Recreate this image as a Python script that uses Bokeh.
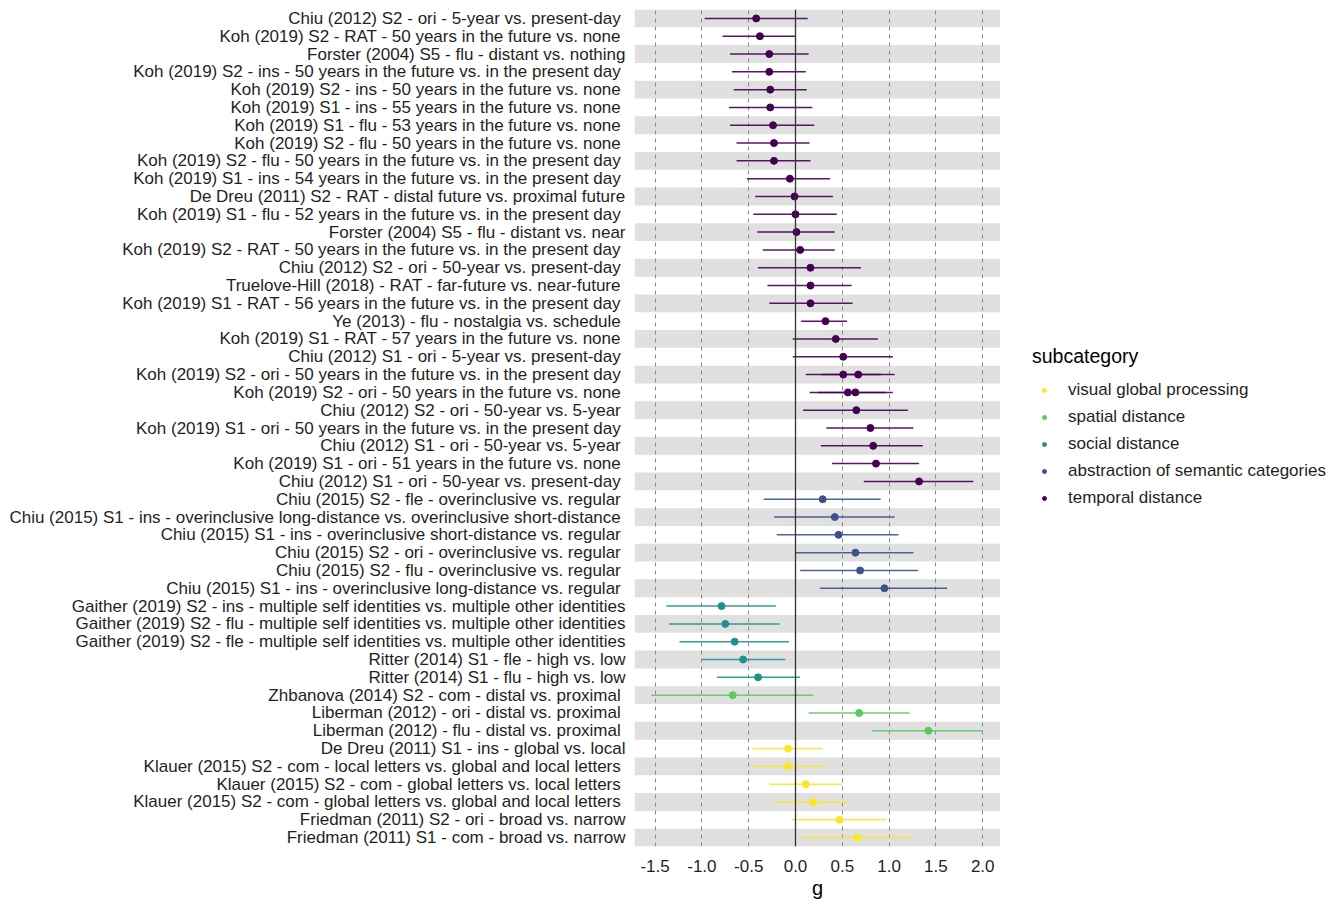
from bokeh.plotting import figure
from bokeh.layouts import row
from bokeh.models import (FactorRange, Range1d, FixedTicker, NumeralTickFormatter,
                          Span, Legend, LegendItem, ColumnDataSource)
from bokeh.transform import factor_cmap
from bokeh.embed import file_html
from bokeh.resources import INLINE

# ---------------- data ----------------
T, A, S, SP, V = ("temporal distance", "abstraction of semantic categories",
                  "social distance", "spatial distance", "visual global processing")

labels = [
    "Chiu  (2012) S2 - ori - 5-year vs. present-day",
    "Koh  (2019) S2 - RAT - 50 years in the future vs. none",
    "Forster (2004) S5 - flu - distant vs. nothing",
    "Koh  (2019) S2 - ins - 50 years in the future vs. in the present day",
    "Koh  (2019) S2 - ins - 50 years in the future vs. none",
    "Koh  (2019) S1 - ins - 55 years in the future vs. none",
    "Koh  (2019) S1 - flu - 53 years in the future vs. none",
    "Koh  (2019) S2 - flu - 50 years in the future vs. none",
    "Koh  (2019) S2 - flu - 50 years in the future vs. in the present day",
    "Koh  (2019) S1 - ins - 54 years in the future vs. in the present day",
    "De Dreu (2011) S2 - RAT - distal future vs. proximal future",
    "Koh  (2019) S1 - flu - 52 years in the future vs. in the present day",
    "Forster (2004) S5 - flu - distant vs. near",
    "Koh  (2019) S2 - RAT - 50 years in the future vs. in the present day",
    "Chiu  (2012) S2 - ori - 50-year vs. present-day",
    "Truelove-Hill (2018)  - RAT - far-future vs. near-future",
    "Koh  (2019) S1 - RAT - 56 years in the future vs. in the present day",
    "Ye (2013)  - flu - nostalgia vs. schedule",
    "Koh  (2019) S1 - RAT - 57 years in the future vs. none",
    "Chiu  (2012) S1 - ori - 5-year vs. present-day",
    "Koh  (2019) S2 - ori - 50 years in the future vs. in the present day",
    "Koh  (2019) S2 - ori - 50 years in the future vs. in the present day",
    "Koh  (2019) S2 - ori - 50 years in the future vs. none",
    "Koh  (2019) S2 - ori - 50 years in the future vs. none",
    "Chiu  (2012) S2 - ori - 50-year vs. 5-year",
    "Koh  (2019) S1 - ori - 50 years in the future vs. in the present day",
    "Chiu  (2012) S1 - ori - 50-year vs. 5-year",
    "Koh  (2019) S1 - ori - 51 years in the future vs. none",
    "Chiu  (2012) S1 - ori - 50-year vs. present-day",
    "Chiu  (2015) S2 - fle - overinclusive vs. regular",
    "Chiu  (2015) S1 - ins - overinclusive long-distance vs. overinclusive short-distance",
    "Chiu  (2015) S1 - ins - overinclusive short-distance vs. regular",
    "Chiu  (2015) S2 - ori - overinclusive vs. regular",
    "Chiu  (2015) S2 - flu - overinclusive vs. regular",
    "Chiu  (2015) S1 - ins - overinclusive long-distance vs. regular",
    "Gaither (2019) S2 - ins - multiple self identities vs. multiple other identities",
    "Gaither (2019) S2 - flu - multiple self identities vs. multiple other identities",
    "Gaither (2019) S2 - fle - multiple self identities vs. multiple other identities",
    "Ritter (2014) S1 - fle - high vs. low",
    "Ritter (2014) S1 - flu - high vs. low",
    "Zhbanova  (2014) S2 - com - distal vs. proximal",
    "Liberman (2012)  - ori - distal vs. proximal",
    "Liberman (2012)  - flu - distal vs. proximal",
    "De Dreu (2011) S1 - ins - global vs. local",
    "Klauer  (2015) S2 - com - local letters vs. global and local letters",
    "Klauer  (2015) S2 - com - global letters vs. local letters",
    "Klauer  (2015) S2 - com - global letters vs. global and local letters",
    "Friedman (2011) S2 - ori - broad vs. narrow",
    "Friedman (2011) S1 - com - broad vs. narrow",
]

g = [-0.42, -0.38, -0.28, -0.28, -0.27, -0.27, -0.24, -0.23, -0.23, -0.06,
     -0.01, 0.00, 0.01, 0.05, 0.16, 0.16, 0.16, 0.32, 0.43, 0.51,
     0.51, 0.67, 0.56, 0.64, 0.65, 0.80, 0.83, 0.86, 1.32,
     0.29, 0.42, 0.46, 0.64, 0.69, 0.95,
     -0.79, -0.75, -0.65, -0.56, -0.40,
     -0.67, 0.68, 1.42,
     -0.08, -0.08, 0.11, 0.19, 0.47, 0.66]

lower = [-0.97, -0.78, -0.70, -0.68, -0.66, -0.71, -0.70, -0.63, -0.63, -0.52,
         -0.43, -0.45, -0.41, -0.35, -0.40, -0.30, -0.28, 0.06, -0.03, -0.03,
         0.11, 0.28, 0.15, 0.24, 0.08, 0.33, 0.27, 0.39, 0.73,
         -0.34, -0.23, -0.20, 0.00, 0.05, 0.26,
         -1.38, -1.35, -1.24, -1.00, -0.84,
         -1.54, 0.14, 0.82,
         -0.46, -0.48, -0.28, -0.22, -0.04, 0.07]

upper = [0.13, 0.00, 0.14, 0.11, 0.12, 0.18, 0.20, 0.15, 0.16, 0.37,
         0.40, 0.44, 0.42, 0.42, 0.70, 0.60, 0.61, 0.55, 0.88, 1.04,
         0.91, 1.06, 0.96, 1.04, 1.20, 1.26, 1.36, 1.32, 1.90,
         0.91, 1.06, 1.10, 1.26, 1.31, 1.62,
         -0.21, -0.17, -0.07, -0.11, 0.05,
         0.19, 1.22, 2.00,
         0.29, 0.32, 0.50, 0.58, 0.97, 1.25]

subcategory = [T] * 29 + [A] * 6 + [S] * 5 + [SP] * 3 + [V] * 6

legend_order = [V, SP, S, A, T]
palette = ["#FDE725", "#5DC863", "#21908C", "#3B528B", "#440154"]

x_ticks = [-1.5, -1.0, -0.5, 0.0, 0.5, 1.0, 1.5, 2.0]
x_start, x_end = -1.72, 2.19

# unique row labels, top to bottom
rows = []
for lab in labels:
    if lab not in rows:
        rows.append(lab)

FONT = "Liberation Sans"
TXT = "#1f1f1f"

p = figure(width=1000, height=901,
           y_range=FactorRange(factors=list(reversed(rows)), range_padding=0),
           x_range=Range1d(x_start, x_end),
           output_backend="svg", toolbar_location=None,
           min_border_left=634, min_border_right=0,
           min_border_top=9, min_border_bottom=54)
p.outline_line_color = None
p.background_fill_color = "white"

# alternating grey row bands
band_rows = rows[::2]
bands = p.hbar(y=band_rows, left=x_start, right=x_end, height=1,
               fill_color="#E0E0E0", line_color=None)
bands.level = "image"

# grid
p.ygrid.grid_line_color = None
p.xgrid.ticker = FixedTicker(ticks=x_ticks)
p.xgrid.grid_line_color = "#8a8a8a"
p.xgrid.grid_line_dash = "4 4"
p.xgrid.grid_line_width = 1

p.add_layout(Span(location=0, dimension="height", line_color="#333333",
                  line_width=1.3))

src = ColumnDataSource(dict(label=labels, g=g, lower=lower, upper=upper,
                            sub=subcategory))
cmap = factor_cmap("sub", palette=palette, factors=legend_order)

p.segment(x0="lower", y0="label", x1="upper", y1="label", source=src,
          line_color=cmap, line_width=1.5, line_alpha=0.9)
p.scatter(x="g", y="label", source=src, size=7, fill_color=cmap,
          line_color=cmap)

# axes
xa = p.xaxis[0]
xa.ticker = FixedTicker(ticks=x_ticks)
xa.formatter = NumeralTickFormatter(format="0.0")
xa.axis_line_color = None
xa.major_tick_line_color = None
xa.minor_tick_line_color = None
xa.major_tick_out = 0
xa.major_label_standoff = 13
xa.major_label_text_font = FONT
xa.major_label_text_font_size = "17px"
xa.major_label_text_color = TXT
xa.axis_label = "g"
xa.axis_label_text_font = FONT
xa.axis_label_text_font_size = "20px"
xa.axis_label_text_font_style = "normal"
xa.axis_label_text_color = "black"
xa.axis_label_standoff = 2

ya = p.yaxis[0]
ya.axis_line_color = None
ya.major_tick_line_color = None
ya.minor_tick_line_color = None
ya.major_tick_out = 0
ya.major_label_standoff = 9
ya.major_label_text_font = FONT
ya.major_label_text_font_size = "17px"
ya.major_label_text_color = TXT
# keep the double spaces visible in SVG text
ya.major_label_overrides = {r: r.replace("  ", "\u00a0 ") for r in rows}

# ---------------- legend figure (to the right) ----------------
lf = figure(width=340, height=901, output_backend="svg", toolbar_location=None,
            min_border=0, x_axis_location=None, y_axis_location=None,
            x_range=Range1d(0, 1), y_range=Range1d(0, 1))
lf.outline_line_color = None
lf.xgrid.visible = False
lf.ygrid.visible = False

# key renderers: one point each, kept outside the visible range of this panel
items = []
for name, col in zip(legend_order, palette):
    r = lf.scatter(x=[-5], y=[-5], size=4, fill_color=col, line_color=col)
    items.append(LegendItem(label=name, renderers=[r]))

legend = Legend(items=items, location=(32, 335), title="subcategory",
                border_line_color=None, background_fill_alpha=0,
                padding=12, margin=0, spacing=0,
                glyph_width=24, glyph_height=10, label_height=27,
                label_standoff=12, title_standoff=8,
                label_text_font=FONT, label_text_font_size="17px",
                label_text_color=TXT,
                title_text_font=FONT, title_text_font_size="19.5px",
                title_text_font_style="normal", title_text_color="black")
lf.add_layout(legend, "center")

open("out.html", "w").write(file_html(row(p, lf), INLINE))
